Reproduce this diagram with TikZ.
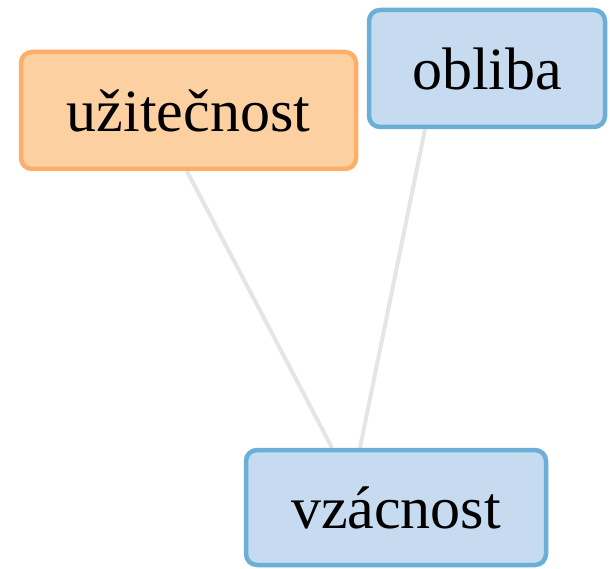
\documentclass[tikz,border=0pt]{standalone}
\usepackage{fontspec}
\setmainfont{Liberation Serif}
\usetikzlibrary{backgrounds}
\definecolor{ofill}{HTML}{FDD0A2}
\definecolor{oline}{HTML}{FDAE6B}
\definecolor{bfill}{HTML}{C6DBEF}
\definecolor{bline}{HTML}{6BAED6}
\definecolor{edgec}{HTML}{E5E5E5}
\begin{document}
\begin{tikzpicture}[x=1pt,y=-1pt,
  box/.style={rectangle, rounded corners=11pt, line width=4.5pt, inner sep=0pt,
    font=\fontsize{60}{68}\selectfont, text=black},
  orangebox/.style={box, fill=ofill, draw=oline},
  bluebox/.style={box, fill=bfill, draw=bline},
  link/.style={draw=edgec, line width=4pt}]
\useasboundingbox (0,0) rectangle (610,569);
\node[orangebox, minimum width=335pt, minimum height=117pt] (u) at (188.5,110.5) {užitečnost};
\node[bluebox, minimum width=236pt, minimum height=117pt] (o) at (487,68.5) {obliba};
\node[bluebox, minimum width=300pt, minimum height=115pt] (v) at (396,507.5) {vzácnost};
\begin{scope}[on background layer]
\draw[link] ([xshift=-1.5pt]u.south) -- ([xshift=-64pt]v.north);
\draw[link] ([xshift=-62pt]o.south) -- ([xshift=-36pt]v.north);
\end{scope}
\end{tikzpicture}
\end{document}
